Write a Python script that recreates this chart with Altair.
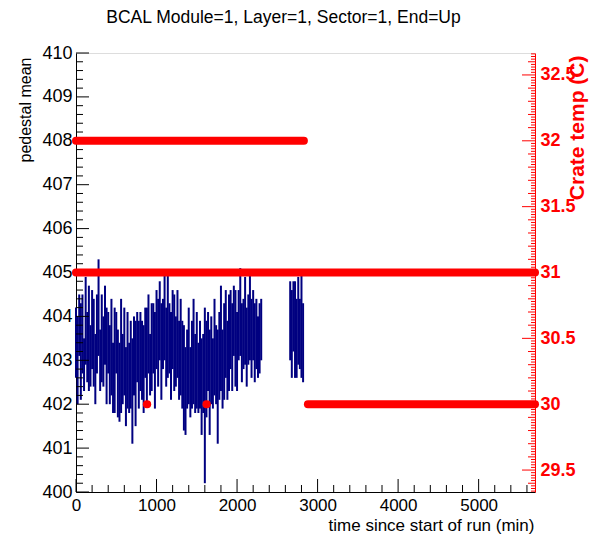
import altair as alt
import pandas as pd

TITLE = "BCAL Module=1, Layer=1, Sector=1, End=Up"
X_TITLE = "time since start of run (min)"
Y_TITLE = "pedestal mean"
Y2_TITLE = "Crate temp (C)"

# pedestal mean samples (time in minutes), first block 0..2300, second block 2660..2820
ped_time_a = list(range(0, 2301, 20))
ped_time_b = list(range(2660, 2821, 20))

ped_mean_a = [
    403.4, 403.0, 403.8, 403.2, 403.6, 402.9, 403.9, 403.3, 403.5, 403.1, 403.7, 403.4, 402.8, 403.6, 404.2, 403.0, 403.5, 403.2, 403.8, 403.1, 403.4,
    402.9, 403.3, 402.6, 403.0, 403.4, 402.7, 402.5, 403.1, 402.8, 403.2, 402.4, 403.0, 402.6, 402.9, 402.3, 403.1, 402.7, 403.3, 402.9, 403.2,
    403.0, 402.8, 403.4, 403.1, 403.6, 402.9, 403.3, 403.5, 403.0, 403.7,
    403.4, 403.9, 403.2, 403.6, 404.0, 403.3, 403.8, 403.5, 403.1, 403.7, 403.4, 403.2, 403.6, 403.0, 403.3,
    402.9, 402.6, 402.3, 402.8, 403.1, 402.5, 402.9, 403.2, 402.7, 403.0, 402.6, 402.9, 402.4, 402.7, 402.2,
    402.8, 403.2, 402.5, 403.0, 402.7, 403.3, 402.9, 402.4, 403.1, 403.5, 402.8, 403.2, 403.6, 403.0, 403.4,
    403.7, 403.3, 403.9, 403.5, 403.2, 403.8, 404.1, 403.4, 403.6, 403.9, 403.3, 403.7, 404.0, 403.5, 403.8, 403.4, 403.6, 403.3, 403.5, 403.7,
]
ped_err_a = [
    0.8, 1.0, 0.7, 1.1, 0.9, 0.6, 1.0, 0.8, 1.2, 0.7, 0.9, 1.0, 0.8, 0.9, 1.1, 0.7, 1.0, 0.8, 0.9, 1.1, 0.7,
    0.9, 1.1, 0.8, 1.2, 0.7, 1.0, 0.9, 1.3, 0.8, 1.0, 0.9, 1.1, 0.8, 1.0, 1.2, 0.9, 1.2, 0.8, 1.0, 0.9,
    0.9, 1.0, 0.8, 1.1, 0.9, 0.7, 1.0, 0.8, 1.1, 0.9,
    1.0, 0.9, 1.1, 0.8, 1.0, 0.9, 1.2, 0.8, 1.0, 0.9, 1.1, 0.8, 1.0, 0.9, 1.1,
    1.0, 1.2, 1.0, 0.9, 1.1, 0.8, 1.0, 1.2, 0.9, 1.1, 0.8, 1.0, 1.1, 0.9, 2.0,
    1.1, 0.9, 1.2, 1.0, 0.8, 1.1, 0.9, 1.3, 1.0, 1.2, 0.9, 1.1, 1.0, 0.9, 1.1,
    0.9, 1.0, 0.8, 1.1, 0.9, 0.8, 1.0, 0.9, 0.8, 1.0, 0.9, 0.8, 1.0, 0.9, 0.8, 0.9, 0.8, 0.7, 0.8, 0.7,
]
ped_mean_b = [403.9, 403.6, 404.0, 403.7, 403.5, 403.9, 403.6, 403.8, 403.4]
ped_err_b = [0.9, 1.0, 0.8, 1.1, 0.9, 1.0, 0.8, 1.2, 0.9]

# crate temperature readings (constant runs of points)
temp_start = [0, 0, 2880, 880, 1620]
temp_end = [2830, 5700, 5700, 884, 1624]
temp_value = [32.0, 31.0, 30.0, 30.0, 30.0]

# axis tick positions
x_major = [0, 1000, 2000, 3000, 4000, 5000]
x_minor = [v for v in range(200, 5700, 200) if v % 1000 != 0]
y_major = [400, 401, 402, 403, 404, 405, 406, 407, 408, 409, 410]
y_minor = [round(400 + 0.2 * i, 1) for i in range(51) if i % 5 != 0]
y2_major = [29.5, 30.0, 30.5, 31.0, 31.5, 32.0, 32.5]
y2_mid = [v for v in [round(29.4 + 0.1 * i, 1) for i in range(33)] if abs(v * 2 - round(v * 2)) > 1e-6]
y2_small = [v for v in [round(29.34 + 0.02 * i, 2) for i in range(167)] if abs(v * 10 - round(v * 10)) > 1e-6]

ped = pd.DataFrame({
    "t": ped_time_a + ped_time_b,
    "m": ped_mean_a + ped_mean_b,
    "e": ped_err_a + ped_err_b,
})
ped["lo"] = ped["m"] - ped["e"]
ped["hi"] = ped["m"] + ped["e"]

temp = pd.DataFrame({"t0": temp_start, "t1": temp_end, "temp": temp_value})

FONT = "Liberation Sans"
W, H = 459, 439
RED = "#ff0000"

xscale = alt.Scale(domain=[0, 5700], nice=False, zero=False)
yscale = alt.Scale(domain=[400, 410], nice=False, zero=False)
y2scale = alt.Scale(domain=[29.33333, 32.66667], nice=False, zero=False)

x_axis = alt.Axis(
    values=x_major, tickCount=20, format="d", labelOverlap=False, labelFlush=False,
    ticks=False, tickSize=0, labelPadding=5, domain=True, domainColor="black", grid=False,
    labelFont=FONT, labelFontSize=17, labelColor="black",
    title=X_TITLE, titleFont=FONT, titleFontSize=17, titleFontWeight="normal", titleColor="black",
    titleX=458, titleY=33, titleAlign="right", titleBaseline="middle", titleAngle=0,
)
y_axis = alt.Axis(
    orient="left", values=y_major, tickCount=20, format="d", labelOverlap=False, labelFlush=False,
    ticks=False, tickSize=0, labelPadding=4, domain=True, domainColor="black", grid=False,
    labelFont=FONT, labelFontSize=18, labelColor="black",
    title=Y_TITLE, titleFont=FONT, titleFontSize=16, titleFontWeight="normal", titleColor="black",
    titleX=-51, titleY=4, titleAlign="right", titleBaseline="middle", titleAngle=270,
)
y2_axis = alt.Axis(
    orient="right", values=y2_major, tickCount=20, format="~g", labelOverlap=False, labelFlush=False,
    ticks=False, tickSize=0, labelPadding=5, domain=True, domainColor=RED, grid=False,
    labelFont=FONT, labelFontSize=18, labelColor=RED, labelFontWeight="bold",
    title=Y2_TITLE, titleFont=FONT, titleFontSize=21, titleFontWeight="bold", titleColor=RED,
    titleX=42, titleY=2, titleAlign="right", titleBaseline="middle", titleAngle=270,
)

blue = alt.Chart(ped).mark_rule(color="#000080", strokeWidth=2).encode(
    x=alt.X("t:Q", scale=xscale, axis=x_axis),
    y=alt.Y("lo:Q", scale=yscale, axis=y_axis),
    y2="hi:Q",
)


def xticks(vals, length):
    df = pd.DataFrame({"v": vals})
    return alt.Chart(df).mark_rule(color="black", strokeWidth=1).encode(
        x=alt.X("v:Q", scale=xscale, axis=x_axis),
        y=alt.value(H), y2=alt.value(H - length),
    )


def yticks(vals, length):
    df = pd.DataFrame({"v": vals})
    return alt.Chart(df).mark_rule(color="black", strokeWidth=1).encode(
        y=alt.Y("v:Q", scale=yscale, axis=y_axis),
        x=alt.value(0), x2=alt.value(length),
    )


def y2ticks(vals, length):
    df = pd.DataFrame({"v": vals})
    return alt.Chart(df).mark_rule(color=RED, strokeWidth=1).encode(
        y=alt.Y("v:Q", scale=y2scale, axis=y2_axis),
        x=alt.value(W), x2=alt.value(W - length),
    )


red = alt.Chart(temp).mark_rule(color=RED, strokeWidth=8, strokeCap="round").encode(
    x=alt.X("t0:Q", scale=xscale, axis=x_axis),
    x2="t1:Q",
    y=alt.Y("temp:Q", scale=y2scale, axis=y2_axis),
)

left_group = alt.layer(
    blue,
    xticks(x_major, 13), xticks(x_minor, 7),
    yticks(y_major, 13), yticks(y_minor, 7),
)
right_group = alt.layer(
    y2ticks(y2_major, 13), y2ticks(y2_mid, 7), y2ticks(y2_small, 4),
    red,
)

chart = alt.layer(left_group, right_group).resolve_scale(y="independent").properties(
    width=W, height=H,
    autosize=alt.AutoSizeParams(type="none"),
    padding={"left": 76, "top": 53, "right": 55, "bottom": 42},
    title=alt.TitleParams(TITLE, font=FONT, fontSize=17.5, fontWeight="normal", color="black",
                          anchor="middle", dx=-22, offset=18),
).configure_view(stroke="black", strokeWidth=1).configure(background="white")

chart.save("out.html", embed_options={"renderer": "svg", "actions": False})
